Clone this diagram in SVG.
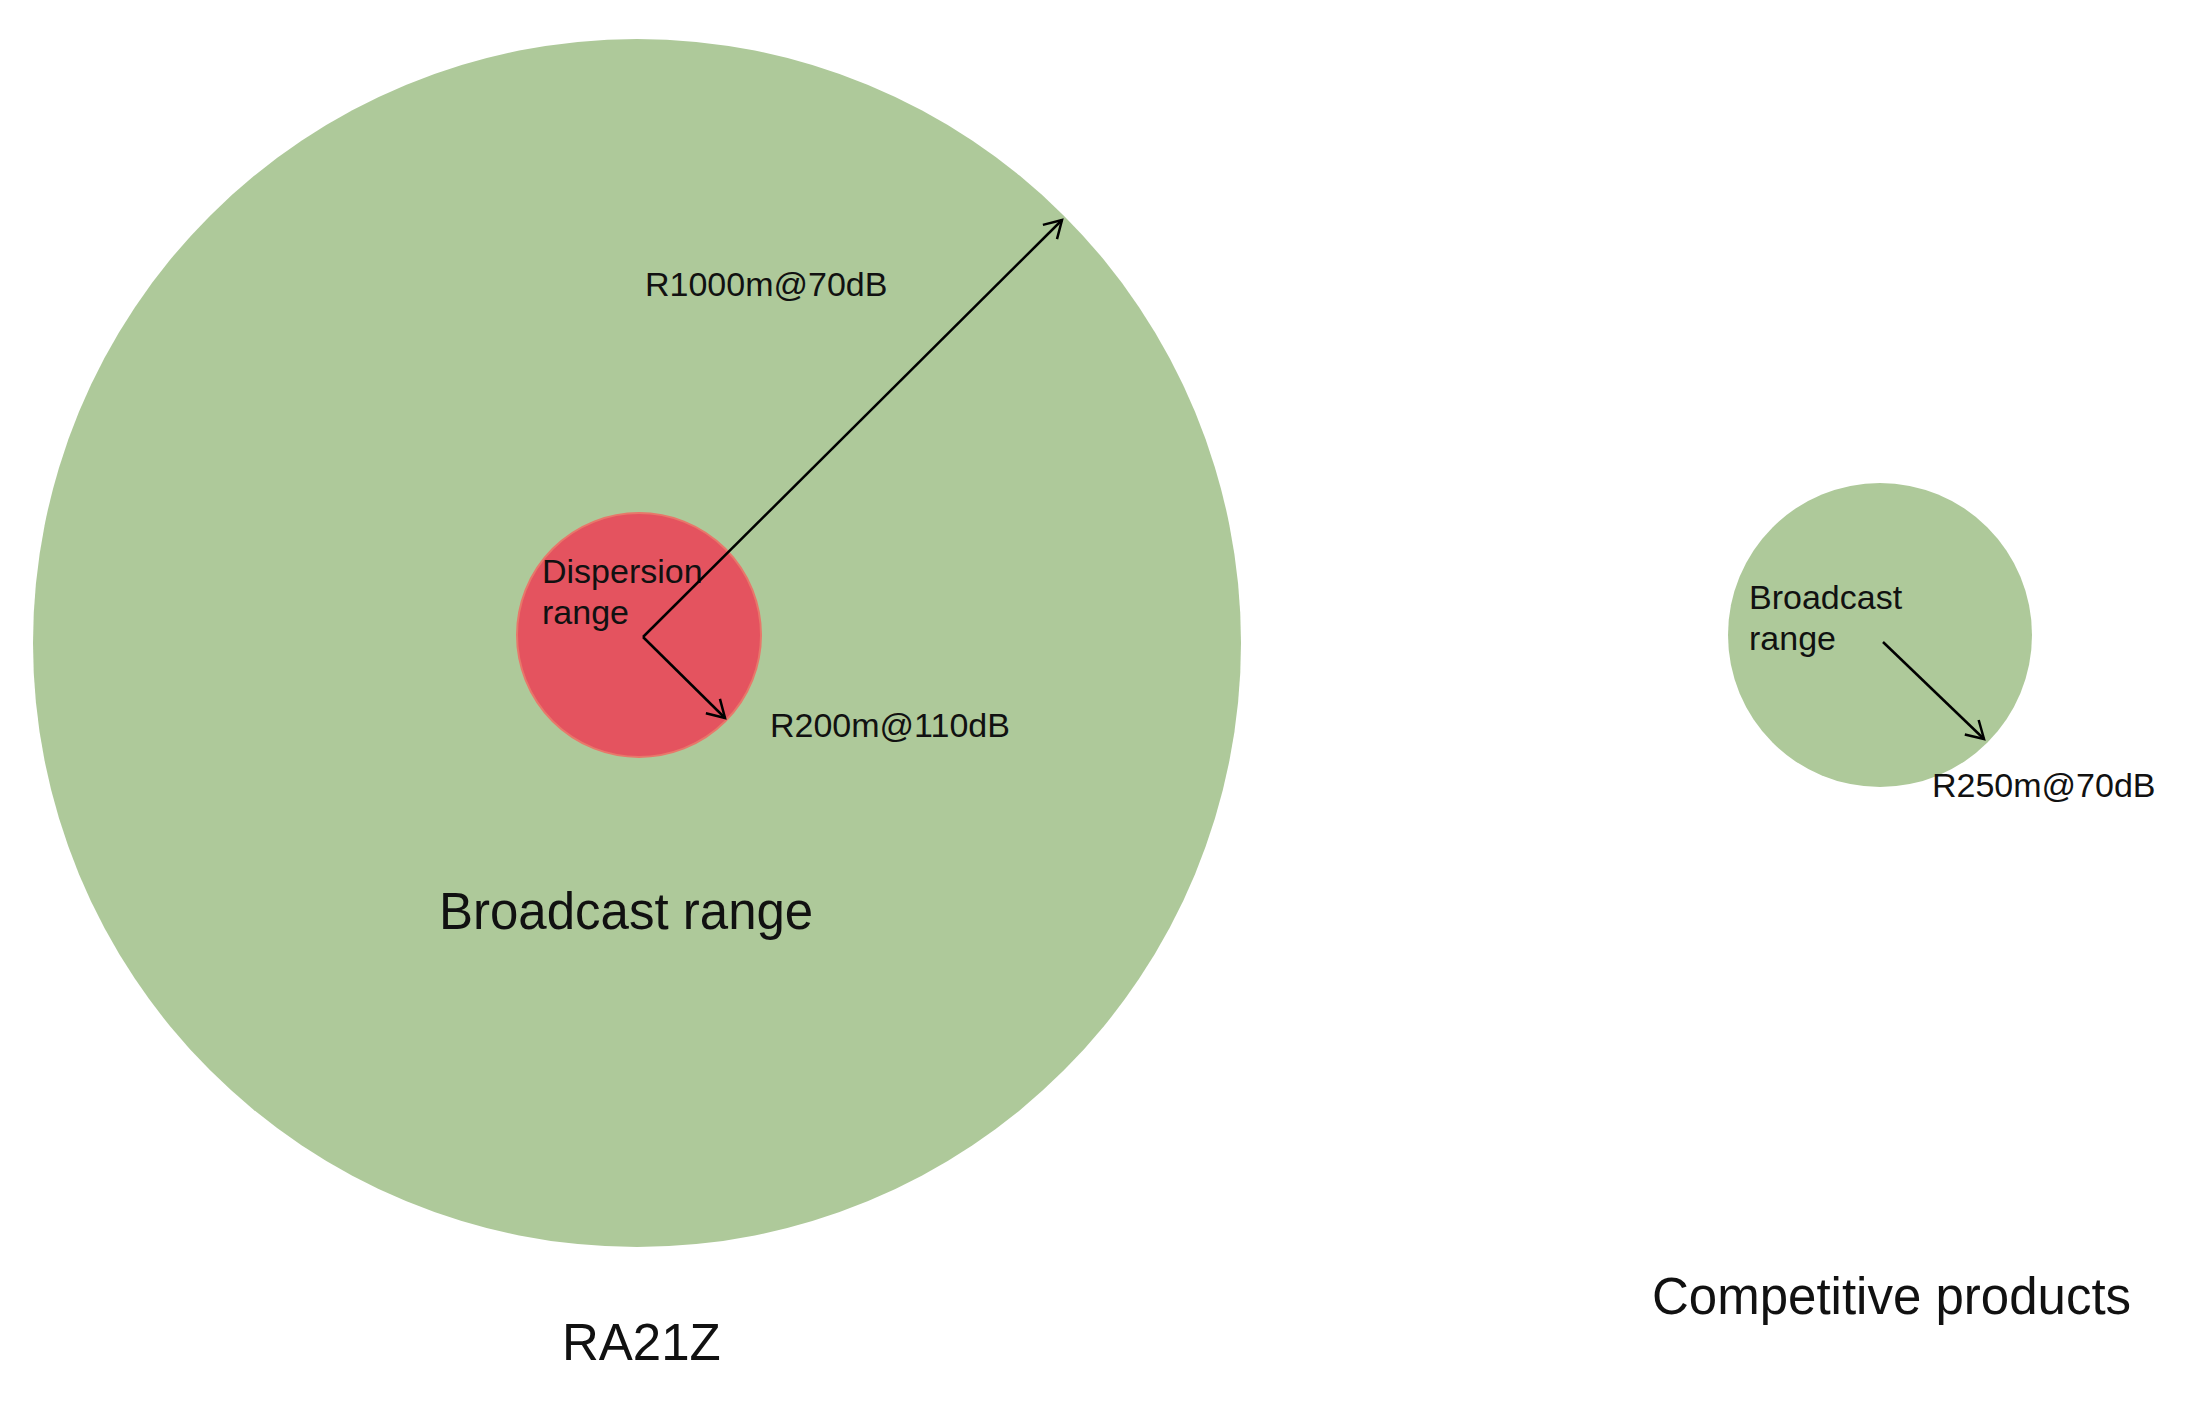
<svg xmlns="http://www.w3.org/2000/svg" width="2212" height="1426" viewBox="0 0 2212 1426">
<style>
.t{font-family:"Liberation Sans",Arial,sans-serif;fill:#111;}
.s{font-size:34px;}
.l{font-size:51px;}
.green{fill:#aec99a;}
.red{fill:#e4535f;stroke:#e8776a;stroke-width:2;}
.conn{stroke:#000;stroke-width:2.5;fill:none;marker-end:url(#arr);}
</style>
<defs>
<marker id="arr" markerUnits="userSpaceOnUse" markerWidth="24" markerHeight="24" viewBox="-20 -12 24 24" refX="0" refY="0" orient="auto">
<path d="M-17,-10 L0,0 L-17,10" fill="none" stroke="#000" stroke-width="2.5"/>
</marker>
</defs>
<rect width="2212" height="1426" fill="#fff"/>
<g id="big-broadcast">
<circle class="green" cx="637" cy="643" r="604"/>
<text class="t l" x="439" y="929">Broadcast range</text>
</g>
<g id="dispersion">
<circle class="red" cx="639" cy="635" r="122"/>
<text class="t s" x="542" y="583">Dispersion</text>
<text class="t s" x="542" y="624">range</text>
</g>
<g id="small-broadcast">
<circle class="green" cx="1880" cy="635" r="152"/>
<text class="t s" x="1749" y="609">Broadcast</text>
<text class="t s" x="1749" y="650">range</text>
</g>
<g id="connectors">
<path class="conn" d="M643,637 L1062,220"/>
<path class="conn" d="M643,637 L725,718"/>
<path class="conn" d="M1883,642 L1984,739"/>
</g>
<g id="labels">
<text class="t s" x="645" y="296">R1000m@70dB</text>
<text class="t s" x="770" y="737">R200m@110dB</text>
<text class="t s" x="1932" y="797">R250m@70dB</text>
<text class="t l" x="562" y="1360">RA21Z</text>
<text class="t l" x="1652" y="1314">Competitive products</text>
</g>
</svg>
